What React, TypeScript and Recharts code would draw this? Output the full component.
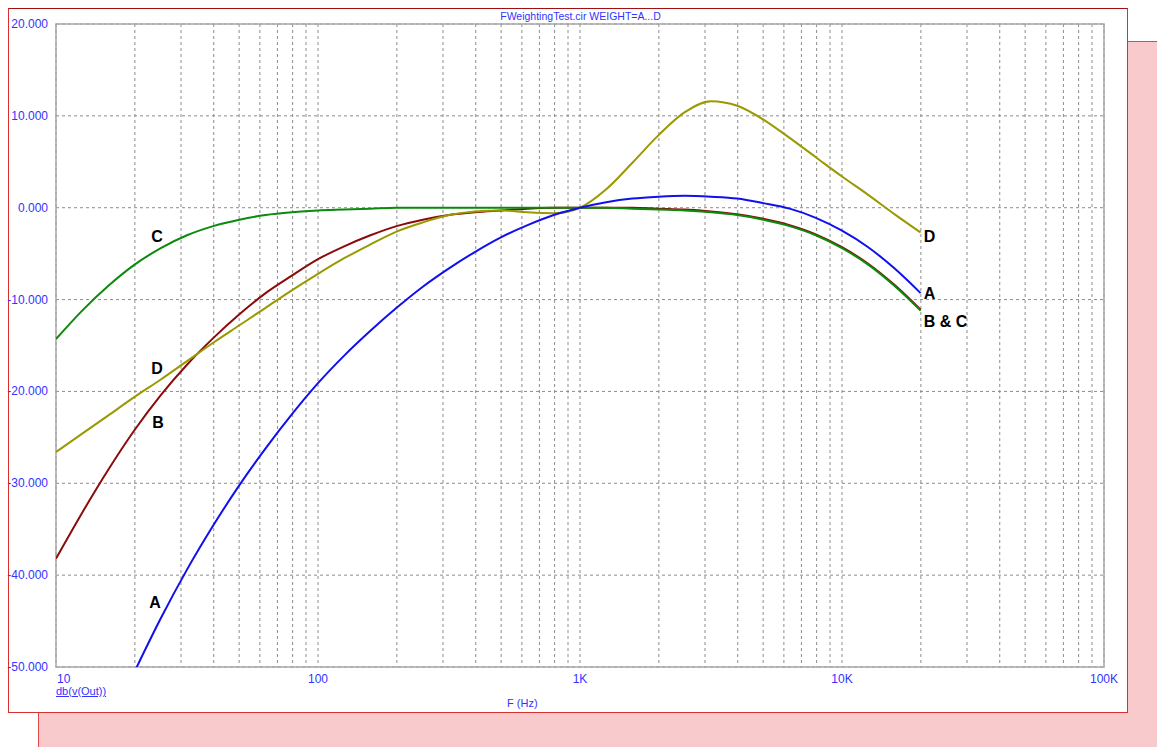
import React from 'react';
import {
  LineChart,
  Line,
  XAxis,
  YAxis,
  CartesianGrid,
  ReferenceArea,
  ReferenceDot,
} from 'recharts';

// frequencies in Hz (exact 1/3 octave centres)
const freqs = [
  10, 12.59, 15.85, 19.95, 25.12, 31.62, 39.81, 50.12, 63.1, 79.43, 100, 125.9, 158.5, 199.5, 251.2,
  316.2, 398.1, 501.2, 631, 794.3, 1000, 1259, 1585, 1995, 2512, 3162, 3981, 5012, 6310, 7943,
  10000, 12589, 15849, 19953,
];

// dB values; A is null below 20 Hz (off the chart)
const weightA = [
  null, null, null, -50.5, -44.7, -39.4, -34.6, -30.2, -26.2, -22.5, -19.1, -16.1, -13.4, -10.9,
  -8.6, -6.6, -4.8, -3.2, -1.9, -0.8, 0, 0.6, 1.0, 1.2, 1.3, 1.2, 1.0, 0.5, -0.1, -1.1, -2.5, -4.3,
  -6.6, -9.3,
];
const weightB = [
  -38.2, -33.2, -28.5, -24.2, -20.4, -17.1, -14.2, -11.6, -9.3, -7.4, -5.6, -4.2, -3.0, -2.0, -1.3,
  -0.8, -0.5, -0.3, -0.1, 0, 0, 0, 0, -0.1, -0.2, -0.4, -0.7, -1.2, -1.9, -2.9, -4.3, -6.1, -8.4,
  -11.1,
];
const weightC = [
  -14.3, -11.2, -8.5, -6.2, -4.4, -3.0, -2.0, -1.3, -0.8, -0.5, -0.3, -0.2, -0.1, 0, 0, 0, 0, 0, 0,
  0, 0, 0, -0.1, -0.2, -0.3, -0.5, -0.8, -1.3, -2.0, -3.0, -4.4, -6.2, -8.5, -11.2,
];
const weightD = [
  -26.6, -24.6, -22.6, -20.6, -18.7, -16.7, -14.7, -12.8, -10.9, -9.0, -7.2, -5.5, -4.0, -2.6,
  -1.6, -0.8, -0.4, -0.3, -0.5, -0.6, 0, 2.0, 4.9, 7.9, 10.4, 11.6, 11.1, 9.6, 7.6, 5.5, 3.4, 1.4,
  -0.7, -2.7,
];

const xTicks = [
  10, 20, 30, 40, 50, 60, 70, 80, 90, 100, 200, 300, 400, 500, 600, 700, 800, 900, 1000, 2000, 3000,
  4000, 5000, 6000, 7000, 8000, 9000, 10000, 20000, 30000, 40000, 50000, 60000, 70000, 80000,
  90000, 100000,
];
const xLabels: Record<number, string> = { 10: '10', 100: '100', 1000: '1K', 10000: '10K', 100000: '100K' };
const yTicks = [-50, -40, -30, -20, -10, 0, 10, 20];

// curve annotations: text, frequency, dB, anchor
const notes = [
  { text: 'C', f: 24.3, db: -3.1, anchor: 'middle' },
  { text: 'D', f: 24.3, db: -17.4, anchor: 'middle' },
  { text: 'B', f: 24.5, db: -23.3, anchor: 'middle' },
  { text: 'A', f: 23.9, db: -42.9, anchor: 'middle' },
  { text: 'D', f: 20000, db: -3.1, anchor: 'start' },
  { text: 'A', f: 20000, db: -9.3, anchor: 'start' },
  { text: 'B & C', f: 20000, db: -12.3, anchor: 'start' },
];

const data = freqs.map((f, i) => ({
  f,
  A: weightA[i],
  B: weightB[i],
  C: weightC[i],
  D: weightD[i],
}));

const TEXT_BLUE = '#3333ff';
const FONT = 'Arial, "Liberation Sans", sans-serif';

const XTick = ({ x, y, payload }: any) => {
  const label = xLabels[payload.value];
  if (!label) return null;
  return (
    <text
      x={payload.value === 10 ? x + 1 : x}
      y={y + 8}
      textAnchor={payload.value === 10 ? 'start' : 'middle'}
      fill={TEXT_BLUE}
      fontSize={12}
      fontFamily={FONT}
    >
      {label}
    </text>
  );
};

const YTick = ({ x, y, payload }: any) => (
  <text x={x} y={y + 4} textAnchor="end" fill={TEXT_BLUE} fontSize={12} fontFamily={FONT}>
    {payload.value.toFixed(3)}
  </text>
);

const NoteLabel = (text: string, anchor: string) => (props: any) => {
  const { viewBox } = props;
  const cx = viewBox.x + viewBox.width / 2;
  const cy = viewBox.y + viewBox.height / 2;
  return (
    <text
      x={anchor === 'start' ? cx + 3 : cx}
      y={cy + 6}
      textAnchor={anchor}
      fontSize={16}
      fontWeight="bold"
      fontFamily={FONT}
      fill="#000"
    >
      {text}
    </text>
  );
};

export default function App() {
  return (
    <div style={{ position: 'absolute', left: 0, top: 0, width: 1157, height: 747, background: '#fff', overflow: 'hidden' }}>
      <div
        style={{
          position: 'absolute',
          left: 38,
          top: 41,
          right: 0,
          bottom: 0,
          background: '#f8cacc',
          borderLeft: '1px solid #e04848',
          borderTop: '1px solid #e04848',
        }}
      />
      <div
        style={{
          position: 'absolute',
          left: 8,
          top: 8,
          width: 1118,
          height: 703,
          background: '#fff',
          border: '1px solid #d83030',
          borderTopColor: '#a01010',
        }}
      />
      <div style={{ position: 'absolute', left: 0, top: 0 }}>
        <LineChart width={1157} height={747} data={data} margin={{ top: 24, right: 53, bottom: 60, left: 4 }}>
          <CartesianGrid stroke="#8c8c8c" strokeDasharray="3 3" />
          <XAxis
            dataKey="f"
            type="number"
            scale="log"
            domain={[10, 100000]}
            ticks={xTicks}
            interval={0}
            allowDataOverflow
            axisLine={false}
            tickLine={false}
            tick={<XTick />}
            height={20}
          />
          <YAxis
            type="number"
            domain={[-50, 20]}
            ticks={yTicks}
            interval={0}
            allowDataOverflow
            axisLine={false}
            tickLine={false}
            tick={<YTick />}
            width={52}
          />
          <ReferenceArea x1={10} x2={100000} y1={-50} y2={20} fill="none" stroke="#a8a8a8" strokeWidth={1.5} />
          <Line dataKey="B" stroke="#8b0a0a" strokeWidth={2} dot={false} type="monotone" isAnimationActive={false} />
          <Line dataKey="C" stroke="#0b8a0b" strokeWidth={2} dot={false} type="monotone" isAnimationActive={false} />
          <Line dataKey="D" stroke="#999900" strokeWidth={2} dot={false} type="monotone" isAnimationActive={false} />
          <Line dataKey="A" stroke="#1010ee" strokeWidth={2} dot={false} type="monotone" connectNulls isAnimationActive={false} />
          {notes.map((n, i) => (
            <ReferenceDot
              key={i}
              x={n.f}
              y={n.db}
              r={0}
              fill="none"
              stroke="none"
              label={NoteLabel(n.text, n.anchor)}
            />
          ))}
        </LineChart>
      </div>
      <div
        style={{
          position: 'absolute',
          left: 0,
          width: 1157,
          top: 10,
          textAlign: 'center',
          paddingLeft: 2,
          color: TEXT_BLUE,
          fontFamily: FONT,
          fontSize: 10.5,
        }}
      >
        FWeightingTest.cir WEIGHT=A...D
      </div>
      <div
        style={{
          position: 'absolute',
          left: 56,
          top: 685,
          color: TEXT_BLUE,
          fontFamily: FONT,
          fontSize: 11,
          textDecoration: 'underline',
        }}
      >
        db(v(Out))
      </div>
      <div style={{ position: 'absolute', left: 507, top: 697, color: TEXT_BLUE, fontFamily: FONT, fontSize: 11 }}>
        F (Hz)
      </div>
    </div>
  );
}
